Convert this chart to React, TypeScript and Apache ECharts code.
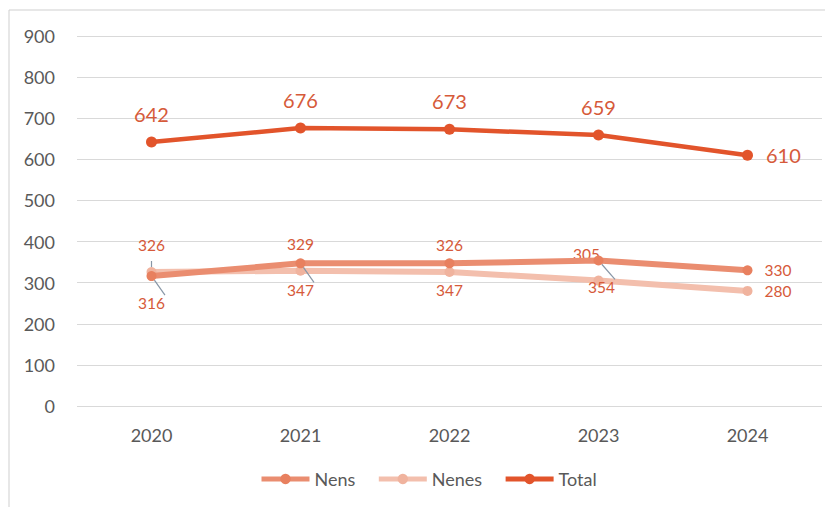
import React, { useEffect, useRef } from "react";
import * as echarts from "echarts";

const categories = ["2020", "2021", "2022", "2023", "2024"];
const nens = [316, 347, 347, 354, 330];
const nenes = [326, 329, 326, 305, 280];
const total = [642, 676, 673, 659, 610];
const yTicks = [0, 100, 200, 300, 400, 500, 600, 700, 800, 900];

const FONT = "Lato";
const LABEL_COLOR = "#D65A3A";
const LEADER = { show: true, lineStyle: { color: "#8796a6", width: 1.2 } };

export default function App() {
  const ref = useRef<HTMLDivElement>(null);
  useEffect(() => {
    if (!ref.current) return;
    const chart = echarts.init(ref.current, undefined, { renderer: "svg" });
    const last = categories.length - 1;
    const smallLabel = (pos: string, i: number, dx: number) => ({
      show: true,
      position: i === last ? "right" : pos,
      distance: i === last ? 12 : 14,
      offset: i === 3 ? [dx, 0] : [0, 0],
      color: LABEL_COLOR,
      fontFamily: FONT,
      fontSize: 15.5,
    });
    const leaderIdx = [0, 3];
    const option: any = {
      animation: false,
      textStyle: { fontFamily: FONT },
      graphic: [
        {
          type: "rect",
          shape: { x: 1, y: 2, width: 1000, height: 800 },
          style: { fill: "none", stroke: "#cfcfcf", lineWidth: 1 },
          silent: true,
        },
      ],
      grid: { left: 69, right: 11, top: 28, bottom: 101 },
      legend: {
        bottom: 14,
        left: 246,
        itemWidth: 48,
        itemHeight: 13,
        itemGap: 21,
        textStyle: { fontFamily: FONT, fontSize: 18, color: "#595959" },
        data: [
          { name: "Nens", lineStyle: { width: 5 } },
          { name: "Nenes", lineStyle: { width: 5 } },
          { name: "Total", lineStyle: { width: 5 } },
        ],
      },
      xAxis: {
        type: "category",
        data: categories,
        boundaryGap: true,
        axisLine: { show: false },
        axisTick: { show: false },
        axisLabel: { color: "#595959", fontSize: 18, fontFamily: FONT, margin: 20 },
      },
      yAxis: {
        type: "value",
        min: yTicks[0],
        max: yTicks[yTicks.length - 1],
        interval: 100,
        axisLine: { show: false },
        axisTick: { show: false },
        axisLabel: { color: "#595959", fontSize: 18, fontFamily: FONT, margin: 22 },
        splitLine: { lineStyle: { color: "#d9d9d9", width: 1 } },
      },
      series: [
        {
          name: "Nenes",
          type: "line",
          data: nenes.map((v, i) => ({
            value: v,
            label: smallLabel("top", i, -12),
            labelLine: leaderIdx.includes(i) ? LEADER : { show: false },
          })),
          symbol: "circle",
          symbolSize: 10,
          lineStyle: { color: "#F3BFAD", width: 6 },
          itemStyle: { color: "#F0B39E" },
          z: 2,
        },
        {
          name: "Nens",
          type: "line",
          data: nens.map((v, i) => ({
            value: v,
            label: smallLabel("bottom", i, 3),
            labelLine: leaderIdx.includes(i) || i === 1 ? LEADER : { show: false },
          })),
          symbol: "circle",
          symbolSize: 10,
          lineStyle: { color: "#EA8D70", width: 6 },
          itemStyle: { color: "#E8805F" },
          z: 3,
        },
        {
          name: "Total",
          type: "line",
          data: total.map((v, i) => ({
            value: v,
            label: {
              show: true,
              position: i === last ? "right" : "top",
              distance: 13,
              color: LABEL_COLOR,
              fontFamily: FONT,
              fontSize: 20,
            },
          })),
          symbol: "circle",
          symbolSize: 11,
          lineStyle: { color: "#E2542B", width: 4.5 },
          itemStyle: { color: "#E2542B" },
          z: 4,
        },
      ],
    };
    chart.setOption(option);
    return () => chart.dispose();
  }, []);
  return <div ref={ref} style={{ width: 825, height: 499 }} />;
}
